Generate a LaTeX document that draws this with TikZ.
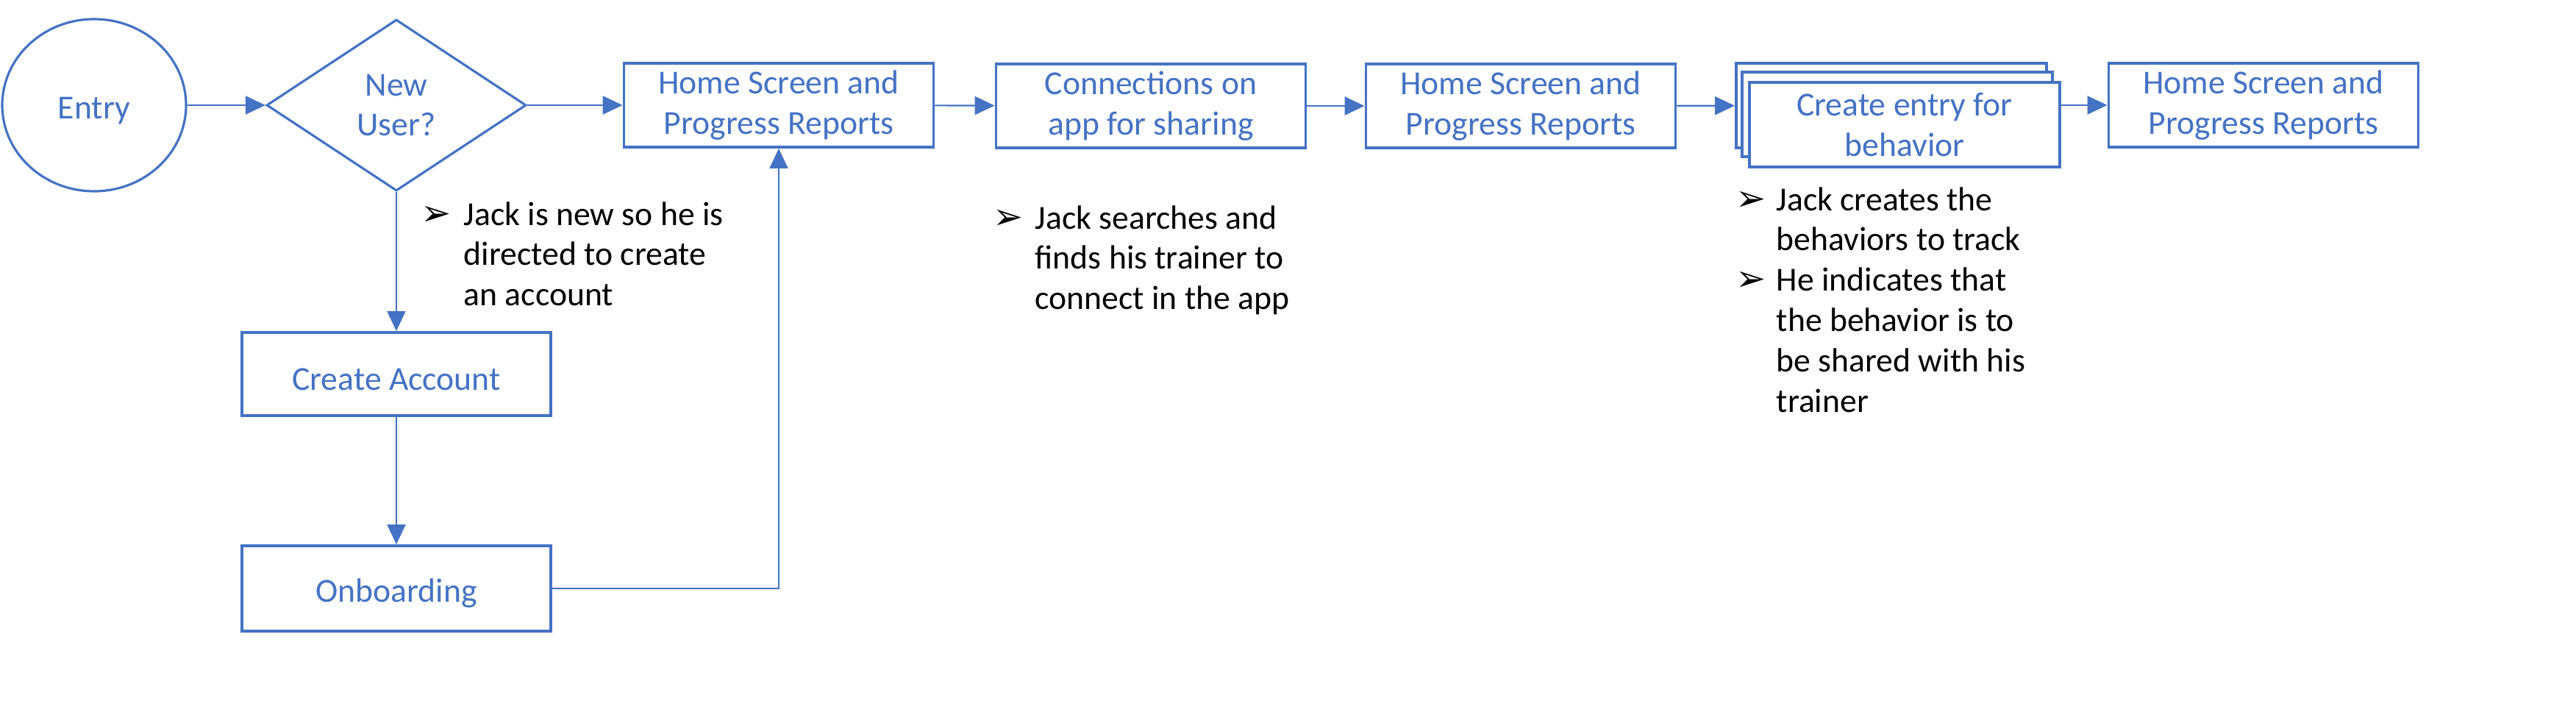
\documentclass[tikz,border=0pt]{standalone}
\usepackage{fontspec}
\setmainfont{Carlito}
\newfontfamily\bulletfont{DejaVu Sans}
\usepackage{tikz}
\usetikzlibrary{shapes.geometric}
\usetikzlibrary{arrows.meta}
\usetikzlibrary{positioning}
\definecolor{flowblue}{HTML}{4472C4}
\newcommand{\flowfont}{\fontsize{13}{15.6}\selectfont}
\newcommand{\flowstrut}{\rule{0pt}{12.6pt}}
\newcommand{\bul}{{\bulletfont\fontsize{14}{15.6}\selectfont ➢}}
\tikzstyle{block} = [draw=flowblue,rectangle,line width=1.1pt,text=flowblue,align=center,
                     minimum width=4.21cm,minimum height=1.14cm,inner sep=0pt,font=\flowfont,
                     execute at begin node=\flowstrut]
\tikzstyle{stackbox} = [block,fill=white,minimum width=4.22cm,minimum height=1.15cm,
                        execute at begin node={}]
\tikzstyle{start} = [draw=flowblue,ellipse,line width=0.9pt,text=flowblue,
                     minimum width=2.5cm,minimum height=2.34cm,inner sep=0pt,font=\flowfont,
                     execute at begin node=\flowstrut]
\tikzstyle{decision} = [draw=flowblue,diamond,line width=0.9pt,text=flowblue,align=center,
                        minimum width=3.53cm,minimum height=2.33cm,inner sep=0pt,font=\flowfont,
                        execute at begin node=\flowstrut]
\tikzstyle{connector} = [->,line width=0.6pt,draw=flowblue]
\tikzstyle{note} = [inner sep=0pt,anchor=north west,font=\flowfont]

\begin{document}
\begin{tikzpicture}[>={Triangle[length=0.27cm,width=0.25cm]}]
    \useasboundingbox (0,0) rectangle (35.03,-9.53);

    % top row of the flow
    \node[start] (entry) at (1.28,-1.43) {Entry};
    \node[decision] (newuser) at (5.39,-1.43) {New\\User?};
    \node[block] (home1) at (10.59,-1.43) {Home Screen and\\Progress Reports};
    \node[block] (connect) at (15.65,-1.44) {Connections on\\app for sharing};
    \node[block] (home2) at (20.68,-1.44) {Home Screen and\\Progress Reports};
    \node[stackbox] (stackback) at (25.72,-1.435) {};
    \node[stackbox] (stackmid) at (25.80,-1.555) {};
    \node[stackbox] (stack) at (25.90,-1.695) {Create entry for\\behavior};
    \node[block] (home3) at (30.78,-1.43) {Home Screen and\\Progress Reports};

    % new user branch
    \node[block, minimum width=4.2cm, minimum height=1.13cm] (create) at (5.39,-5.085) {Create Account};
    \node[block, minimum width=4.2cm, minimum height=1.16cm] (onboard) at (5.39,-8.00) {Onboarding};

    % bullet notes
    \node[note] (note1) at (5.72,-2.67) {\begin{tabular}{@{}p{0.58cm}@{}l@{}}
        \bul & Jack is new so he is\\
             & directed to create\\
             & an account
      \end{tabular}};
    \node[note] (note2) at (13.50,-2.72) {\begin{tabular}{@{}p{0.57cm}@{}l@{}}
        \bul & Jack searches and\\
             & finds his trainer to\\
             & connect in the app
      \end{tabular}};
    \node[note] (note3) at (23.60,-2.47) {\begin{tabular}{@{}p{0.55cm}@{}l@{}}
        \bul & Jack creates the\\
             & behaviors to track\\
        \bul & He indicates that\\
             & the behavior is to\\
             & be shared with his\\
             & trainer
      \end{tabular}};

    % now link the nodes
    \draw [connector] (entry) -- (newuser);
    \draw [connector] (newuser) -- (home1);
    \draw [connector] (home1) -- (connect);
    \draw [connector] (connect) -- (home2);
    \draw [connector] (home2) -- (stackback);
    \draw [connector] (stack.east |- home3.west) -- (home3.west);
    \draw [connector] (newuser.south) -- (create.north);
    \draw [connector] (create) -- (onboard);
    \draw [connector] (onboard.east) -| (home1.south);
\end{tikzpicture}
\end{document}
